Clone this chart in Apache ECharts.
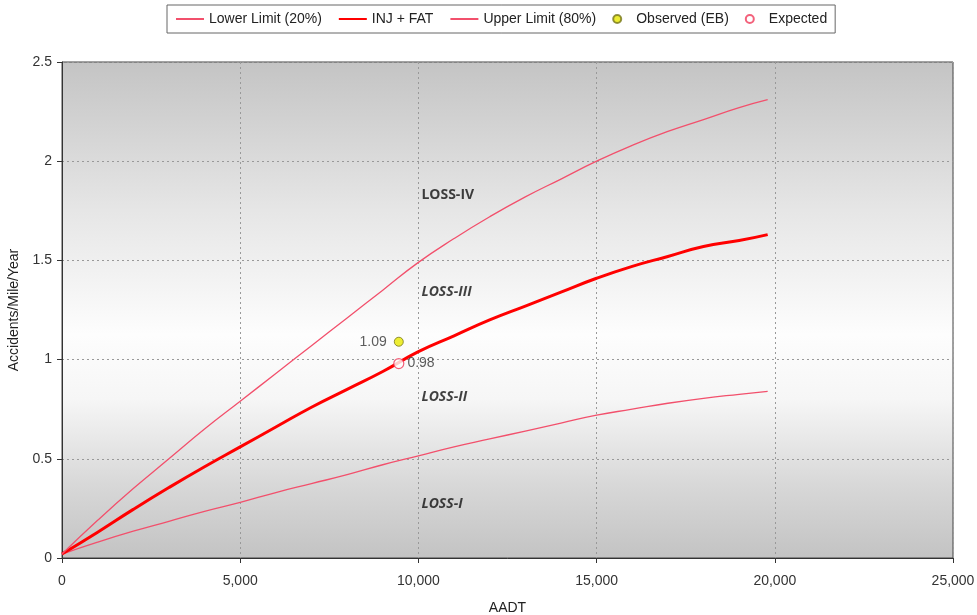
<!DOCTYPE html>
<html>
<head>
<meta charset="utf-8">
<script src="https://cdn.jsdelivr.net/npm/echarts@6/dist/echarts.min.js"></script>
<style>
  html, body { margin: 0; padding: 0; background: #fff; }
  #chart { width: 977px; height: 615px; }
</style>
</head>
<body>
<div id="chart"></div>
<script>
// values
var aadt   = [0, 1000, 2000, 3000, 4000, 5000, 6000, 7000, 8000, 9000, 10000, 11000, 12000, 13000, 14000, 15000, 16000, 17000, 18000, 19000, 19800];
var lower  = [0.02, 0.08, 0.135, 0.185, 0.235, 0.28, 0.33, 0.375, 0.42, 0.47, 0.515, 0.56, 0.60, 0.64, 0.68, 0.72, 0.75, 0.78, 0.805, 0.825, 0.84];
var injFat = [0.02, 0.13, 0.245, 0.355, 0.46, 0.56, 0.66, 0.76, 0.85, 0.94, 1.04, 1.12, 1.20, 1.27, 1.34, 1.41, 1.47, 1.52, 1.57, 1.60, 1.63];
var upper  = [0.02, 0.19, 0.35, 0.50, 0.65, 0.79, 0.93, 1.07, 1.21, 1.35, 1.49, 1.61, 1.72, 1.82, 1.91, 2.00, 2.08, 2.15, 2.21, 2.27, 2.31];
var siteAadt = 9450;
var observed = 1.09;
var expected = 0.98;
var zoneNames = ['LOSS-IV', 'LOSS-III', 'LOSS-II', 'LOSS-I'];
var zoneY = [1.83, 1.34, 0.81, 0.27];
var zoneX = 10000;

function pairs(xs, ys) {
  return xs.map(function (x, i) { return [x, ys[i]]; });
}

var dom = document.getElementById('chart');
var myChart = echarts.init(dom);
var font = 'Liberation Sans, Arial, sans-serif';
var limitColor = '#f2506c';
var noMarker = { color: 'rgba(0,0,0,0)', borderWidth: 0 };

option = {
    textStyle: { fontFamily: font },
    legend: {
        top: 5,
        left: 167,
        data: [
            { name: 'Lower Limit (20%)', itemStyle: noMarker },
            { name: 'INJ + FAT', itemStyle: noMarker },
            { name: 'Upper Limit (80%)', itemStyle: noMarker },
            'Observed (EB)',
            'Expected'
        ],
        borderColor: '#666',
        borderWidth: 1,
        padding: [7, 8],
        itemGap: 16,
        itemWidth: 28,
        itemHeight: 8,
        textStyle: { fontSize: 14, color: '#222', fontFamily: font }
    },
    grid: {
        left: 62,
        right: 24,
        top: 62,
        bottom: 57,
        outerBoundsMode: 'none',
        show: true,
        borderColor: '#444',
        borderWidth: 1,
        backgroundColor: {
            type: 'linear', x: 0, y: 0, x2: 0, y2: 1,
            colorStops: [
                { offset: 0, color: '#c4c4c4' },
                { offset: 0.3, color: '#e6e6e6' },
                { offset: 0.55, color: '#fdfdfd' },
                { offset: 0.68, color: '#f6f6f6' },
                { offset: 0.85, color: '#d8d8d8' },
                { offset: 1, color: '#c3c3c3' }
            ]
        }
    },
    xAxis: {
        type: 'value',
        min: 0,
        max: 25000,
        interval: 5000,
        name: 'AADT',
        nameLocation: 'middle',
        nameGap: 43,
        nameTextStyle: { fontSize: 14, color: '#222' },
        axisLine: { lineStyle: { color: '#333' } },
        axisTick: { show: true, length: 5, lineStyle: { color: '#333' } },
        axisLabel: {
            fontSize: 14, color: '#333', margin: 16,
            formatter: function (v) { return v.toLocaleString('en-US'); }
        },
        splitLine: { show: true, lineStyle: { color: '#999', type: [2, 3] } }
    },
    yAxis: {
        type: 'value',
        min: 0,
        max: 2.5,
        interval: 0.5,
        name: 'Accidents/Mile/Year',
        nameLocation: 'middle',
        nameGap: 34,
        nameTextStyle: { fontSize: 14, color: '#222' },
        axisLine: { show: true, lineStyle: { color: '#333' } },
        axisTick: { show: true, length: 5, lineStyle: { color: '#333' } },
        axisLabel: { fontSize: 14, color: '#333', margin: 10 },
        splitLine: { show: true, lineStyle: { color: '#999', type: [2, 3] } }
    },
    series: [
        {
            name: 'Lower Limit (20%)',
            type: 'line',
            smooth: true,
            symbol: 'none',
            lineStyle: { color: limitColor, width: 1.3 },
            itemStyle: { color: limitColor },
            data: pairs(aadt, lower)
        },
        {
            name: 'INJ + FAT',
            type: 'line',
            smooth: true,
            symbol: 'none',
            lineStyle: { color: '#ff0000', width: 3 },
            itemStyle: { color: '#ff0000' },
            data: pairs(aadt, injFat)
        },
        {
            name: 'Upper Limit (80%)',
            type: 'line',
            smooth: true,
            symbol: 'none',
            lineStyle: { color: limitColor, width: 1.3 },
            itemStyle: { color: limitColor },
            data: pairs(aadt, upper)
        },
        {
            name: 'Observed (EB)',
            type: 'scatter',
            symbol: 'circle',
            symbolSize: 9,
            itemStyle: { color: '#e8e800', borderColor: '#77771a', borderWidth: 1 },
            label: {
                show: true, position: 'left', distance: 7,
                fontSize: 14, color: '#333',
                formatter: function (p) { return p.value[1].toFixed(2); }
            },
            data: [[siteAadt, observed]],
            z: 5
        },
        {
            name: 'Expected',
            type: 'scatter',
            symbol: 'circle',
            symbolSize: 10,
            itemStyle: { color: '#ffffff', borderColor: '#f03a5a', borderWidth: 1.2 },
            label: {
                show: true, position: 'right', distance: 3,
                fontSize: 14, color: '#333',
                formatter: function (p) { return p.value[1].toFixed(2); }
            },
            data: [[siteAadt, expected]],
            z: 5
        },
        {
            name: 'zones',
            type: 'scatter',
            symbolSize: 0,
            silent: true,
            label: {
                show: true, position: 'right', distance: 3,
                fontSize: 14, fontWeight: 'bold', fontStyle: 'italic',
                fontFamily: 'Open Sans, sans-serif', color: '#111',
                formatter: function (p) { return p.name; }
            },
            data: zoneNames.map(function (n, i) {
                var item = { name: n, value: [zoneX, zoneY[i]] };
                if (i === 0) item.label = { fontStyle: 'normal' };
                return item;
            })
        }
    ]
};
myChart.setOption(option);
</script>
</body>
</html>
